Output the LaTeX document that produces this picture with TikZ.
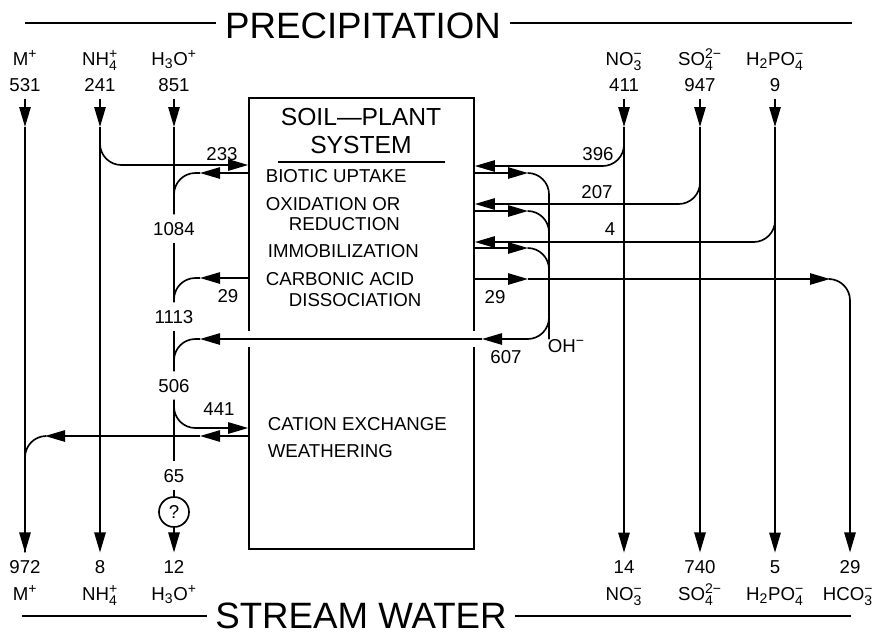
\documentclass[tikz,border=0pt]{standalone}
\usepackage{fontspec}
\setmainfont{Liberation Sans}
\usepackage{amsmath}
\DeclareMathSizes{14}{14}{10.5}{8}
\usetikzlibrary{arrows.meta}
\newcommand{\ion}[3]{#1$_{\text{#2}}^{\text{#3}}$}
\begin{document}
\begin{tikzpicture}[x=0.75pt, y=-0.75pt, line width=1.25pt, font=\fontsize{14}{16}\selectfont, lbl/.style={anchor=base, inner sep=5pt}, head/.style={anchor=base, inner xsep=6pt, inner ysep=0pt, font=\fontsize{27.5}{30}\selectfont}, txt/.style={anchor=base west, inner sep=0pt}, arr/.style={-{Triangle[length=15pt, width=8.5pt]}}, rnd/.style={rounded corners=16pt}]
\useasboundingbox (0,0) rectangle (875,633);
% headings
\node[head] (precip) at (363,38) {PRECIPITATION};
\node[head] (stream) at (361,628) {STREAM WATER};
\coordinate (pl) at (25,23); \coordinate (pr) at (852,23); \coordinate (sl) at (22,616); \coordinate (sr) at (851,616);
\draw (pl) -- (pl -| precip.west) (precip.east |- pr) -- (pr);
\draw (sl) -- (sl -| stream.west) (stream.east |- sr) -- (sr);
% inputs
\node[lbl] (mtop) at (25,65) {M$^{\text{+}}$}; \node[lbl] (m531) at (25,91) {531};
\node[lbl] (ntop) at (100,65) {\ion{NH}{4}{+}}; \node[lbl] (n241) at (100,91) {241};
\node[lbl] (htop) at (174,65) {H$_{\text{3}}$O$^{\text{+}}$}; \node[lbl] (h851) at (174,91) {851};
\node[lbl] (notop) at (624,65) {\ion{NO}{3}{−}}; \node[lbl] (no411) at (624,91) {411};
\node[lbl] (sotop) at (700,65) {\ion{SO}{4}{2−}}; \node[lbl] (so947) at (700,91) {947};
\node[lbl] (ptop) at (775,65) {H$_{\text{2}}$\ion{PO}{4}{−}}; \node[lbl] (p9) at (775,91) {9};
% outputs
\node[lbl] (m972) at (25,573) {972}; \node[lbl] (mbot) at (25,600) {M$^{\text{+}}$};
\node[lbl] (n8) at (100,573) {8}; \node[lbl] (nbot) at (100,600) {\ion{NH}{4}{+}};
\node[lbl] (h12) at (174,573) {12}; \node[lbl] (hbot) at (174,600) {H$_{\text{3}}$O$^{\text{+}}$};
\node[lbl] (no14) at (624,573) {14}; \node[lbl] (nobot) at (624,600) {\ion{NO}{3}{−}};
\node[lbl] (so740) at (700,573) {740}; \node[lbl] (sobot) at (700,600) {\ion{SO}{4}{2−}};
\node[lbl] (p5) at (775,573) {5}; \node[lbl] (pbot) at (775,600) {H$_{\text{2}}$\ion{PO}{4}{−}};
\node[lbl] (c29) at (850,573) {29}; \node[lbl] (cbot) at (848,600) {\ion{HCO}{3}{−}};
% soil-plant box
\node[draw, minimum width=168.75pt, minimum height=338.25pt, inner sep=0pt] (sys) at (361.5,323.5) {};
\node[anchor=base, font=\fontsize{18.5}{20}\selectfont] (soil) at (361,125) {SOIL—PLANT};
\node[anchor=base, font=\fontsize{18.5}{20}\selectfont] (syst) at (361,153) {SYSTEM};
\draw (278,162) -- (445,162);
\node[txt] (bio) at (265,182) {BIOTIC UPTAKE};
\node[txt] (oxi) at (265,210) {OXIDATION OR};
\node[txt] (red) at (288,230) {REDUCTION};
\node[txt] (imm) at (267,257) {IMMOBILIZATION};
\node[txt] (carb) at (265,285) {CARBONIC ACID};
\node[txt] (diss) at (288,306) {DISSOCIATION};
\node[txt] (cat) at (267,430) {CATION EXCHANGE};
\node[txt] (wea) at (267,457) {WEATHERING};
% H3O+ column labels
\node[lbl] (h1084) at (174,235) {1084}; \node[lbl] (h1113) at (174,323) {1113};
\node[lbl] (h506) at (174,392) {506}; \node[lbl] (h65) at (174,482) {65};
\node[draw, circle, minimum size=22.5pt, inner sep=0pt] (q) at (174,512) {?};
% flow labels
\node[lbl] (f233) at (222,160) {233}; \node[lbl] (f29l) at (228,302) {29}; \node[lbl] (f441) at (219,415) {441};
\node[lbl] (f396) at (598,160) {396}; \node[lbl] (f207) at (597,198) {207}; \node[lbl] (f4) at (610,235) {4};
\node[lbl] (f29r) at (495,303) {29}; \node[lbl] (f607) at (506,363) {607}; \node[txt] (oh) at (547,352) {OH$^{\text{−}}$};
% arrow points
\coordinate (ma) at (25,127); \coordinate (na) at (100,127); \coordinate (ha) at (174,127);
\coordinate (noa) at (624,127); \coordinate (soa) at (700,127); \coordinate (pa) at (775,127);
\coordinate (hb) at (200,173); \coordinate (hc) at (200,278); \coordinate (hd) at (200,339); \coordinate (he) at (200,436); \coordinate (mb) at (45,436);
\coordinate (ra) at (528,173); \coordinate (rb) at (528,211); \coordinate (rc) at (528,248); \coordinate (rk) at (549,339); \coordinate (rd) at (482,339);
\coordinate (ca) at (528,279); \coordinate (cb) at (830,279);
% cation columns
\draw[arr] (m531) -- (ma); \draw[arr] (ma) -- (m972);
\draw[arr] (n241) -- (na); \draw[arr] (na) -- (n8); \draw[arr, rnd] (na) |- (sys.west |- 0,165);
\draw[arr] (h851) -- (ha); \draw (ha) -- (h1084); \draw[arr] (sys.west |- hb) -- (hb); \draw[rnd] (hb) -| (h1084);
\draw (h1084) -- (h1113); \draw[arr] (sys.west |- hc) -- (hc); \draw[rnd] (hc) -| (h1113);
\draw (h1113) -- (h506); \draw[arr, rnd] (h506) |- (sys.west |- 0,428);
\draw (h506) -- (h65); \draw[arr] (sys.west |- he) -- (he); \draw[arr] (he) -- (mb); \draw[rnd] (mb) -| (m972);
\draw (h65) -- (q); \draw[arr] (q) -- (h12);
% anion columns
\draw[arr] (no411) -- (noa); \draw[arr] (noa) -- (no14); \draw[arr, rnd] (noa) |- (sys.east |- 0,166);
\draw[arr] (so947) -- (soa); \draw[arr] (soa) -- (so740); \draw[arr, rnd] (soa) |- (sys.east |- 0,204);
\draw[arr] (p9) -- (pa); \draw[arr] (pa) -- (p5); \draw[arr, rnd] (pa) |- (sys.east |- 0,242);
\draw[arr] (sys.east |- ra) -- (ra); \draw[arr] (sys.east |- rb) -- (rb); \draw[arr] (sys.east |- rc) -- (rc);
\draw[arr, rnd] (ra) -| (rk) -- (rd); \draw[rnd] (rb) -| (rk); \draw[rnd] (rc) -| (rk);
\fill[white] (245,331) rectangle (253,347); \fill[white] (470,331) rectangle (478,347);
\draw[arr] (rd) -- (hd); \draw[rnd] (hd) -| (h506);
\draw[arr] (sys.east |- ca) -- (ca); \draw[arr] (ca) -- (cb); \draw[arr, rnd] (cb) -| (c29);
\end{tikzpicture}
\end{document}
